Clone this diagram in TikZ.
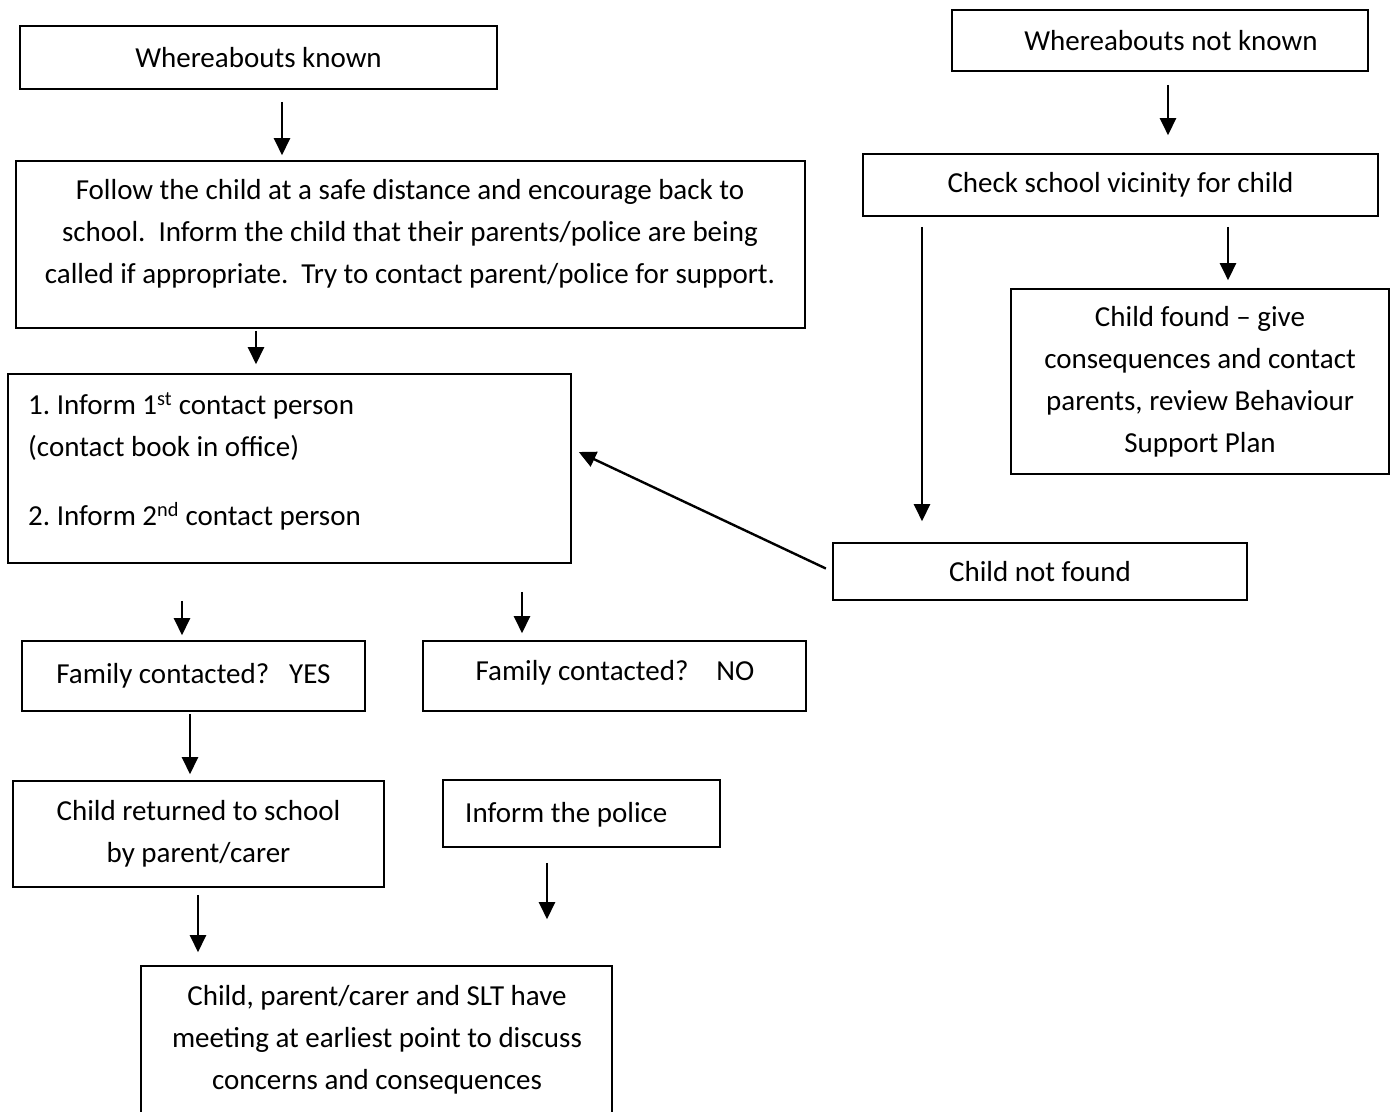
\documentclass[tikz,border=0pt]{standalone}
\usepackage{fontspec}
\setmainfont{Carlito}
\usetikzlibrary{arrows.meta}
\frenchspacing

\begin{document}
\begin{tikzpicture}[x=1pt,y=-1pt,
  box/.style={draw,line width=1.6pt,inner sep=0pt,align=center},
  txt/.style={inner sep=0pt,align=center},
  arr/.style={line width=2.4pt,-{Triangle[width=16pt,length=17pt]}}]
\fontsize{29}{42}\selectfont
\clip(0,0)rectangle(1392,1111);
\node[box,minimum width=477,minimum height=63](known)at(258.5,57.5){Whereabouts known};
\node[box,minimum width=416,minimum height=61](notknown)at(1160,40.5){\hspace*{22pt}Whereabouts not known};
\node[box,minimum width=789,minimum height=167](follow)at(410.5,244.5){};
\node[txt](followtext)at(410,234){Follow the child at a safe distance and encourage back to\\school.\ \ Inform the child that their parents/police are being\\called if appropriate.\ \ Try to contact parent/police for support.};
\node[box,minimum width=515,minimum height=62](check)at(1120.5,185){Check school vicinity for child};
\node[box,minimum width=378,minimum height=185](found)at(1200,381.5){Child found -- give\\consequences and contact\\parents, review Behaviour\\Support Plan};
\node[box,minimum width=563,minimum height=189](inform)at(289.5,468.5){};
\node[txt,align=left,anchor=north west](informtext)at(28,392){1. Inform 1\textsuperscript{st} contact person\\(contact book in office)\\[27pt]2. Inform 2\textsuperscript{nd} contact person};
\node[box,minimum width=414,minimum height=57](notfound)at(1040,571.5){Child not found};
\node[box,minimum width=343,minimum height=70](famyes)at(193.5,676){Family contacted?\hspace{20pt}YES};
\node[box,minimum width=383,minimum height=70](famno)at(614.5,676){};
\node[txt](famnotext)at(615,673){Family contacted?\hspace{28pt}NO};
\node[box,minimum width=371,minimum height=106](returned)at(198.5,834){Child returned to school\\by parent/carer};
\node[box,minimum width=277,minimum height=67](police)at(581.5,813.5){};
\node[txt,anchor=west](policetext)at(465,815){Inform the police};
\node[box,minimum width=471,minimum height=170](final)at(376.5,1051){};
\node[txt](finaltext)at(377,1039.5){Child, parent/carer and SLT have\\meeting at earliest point to discuss\\concerns and consequences};
\coordinate(a1)at(282,0);
\coordinate(a2)at(1168,0);
\coordinate(a3)at(256,0);
\coordinate(a4)at(922,0);
\coordinate(a5)at(1228,0);
\coordinate(a6)at(182,0);
\coordinate(a7)at(522,0);
\coordinate(a8)at(190,0);
\coordinate(a9)at(547,0);
\coordinate(a10)at(198,0);
\draw[arr,shorten <=12pt,shorten >=5pt](known.south-|a1)--(follow.north-|a1);
\draw[arr,shorten <=13pt,shorten >=18pt](notknown.south-|a2)--(check.north-|a2);
\draw[arr,shorten <=2pt,shorten >=9pt](follow.south-|a3)--(inform.north-|a3);
\draw[arr,shorten <=10pt,shorten >=21pt](check.south-|a4)--(notfound.north-|a4);
\draw[arr,shorten <=10pt,shorten >=8pt](check.south-|a5)--(found.north-|a5);
\draw[arr,shorten <=7pt](notfound.west)--([shift={(7,-16.5)}]inform.east);
\draw[arr,shorten <=37pt,shorten >=5pt](inform.south-|a6)--(famyes.north-|a6);
\draw[arr,shorten <=28pt,shorten >=7pt](inform.south-|a7)--(famno.north-|a7);
\draw[arr,shorten <=2pt,shorten >=6pt](famyes.south-|a8)--(returned.north-|a8);
\draw[arr,shorten <=15pt,shorten >=46pt](police.south-|a9)--(final.north-|a9);
\draw[arr,shorten <=7pt,shorten >=13pt](returned.south-|a10)--(final.north-|a10);
\end{tikzpicture}
\end{document}
